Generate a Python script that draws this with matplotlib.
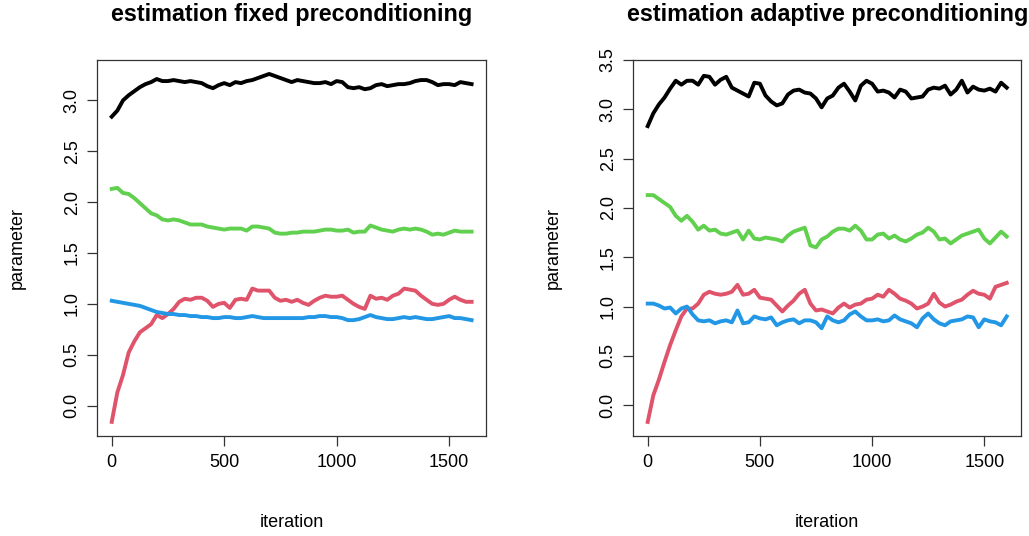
"""Parameter traces for fixed vs adaptive preconditioning."""
import numpy as np
import matplotlib
matplotlib.use("Agg")
import matplotlib.pyplot as plt

plt.rcParams['font.family'] = ['Liberation Sans', 'DejaVu Sans']

# iterations read every 25 steps
iteration = np.arange(0, 1601, 25)

# fixed preconditioning
fixed_black = [2.84, 2.90, 3.00, 3.05, 3.09, 3.13, 3.16, 3.18, 3.21, 3.19, 3.19, 3.20, 3.19,
               3.18, 3.19, 3.18, 3.17, 3.14, 3.12, 3.15, 3.17, 3.15, 3.18, 3.17, 3.19, 3.20,
               3.22, 3.24, 3.26, 3.24, 3.22, 3.20, 3.18, 3.20, 3.19, 3.18, 3.17, 3.17, 3.18,
               3.16, 3.19, 3.18, 3.13, 3.12, 3.13, 3.11, 3.12, 3.15, 3.16, 3.14, 3.15, 3.16,
               3.16, 3.17, 3.19, 3.20, 3.20, 3.18, 3.15, 3.16, 3.16, 3.15, 3.18, 3.17, 3.16]
fixed_red = [-0.16, 0.13, 0.30, 0.52, 0.63, 0.72, 0.76, 0.80, 0.89, 0.86, 0.90, 0.95, 1.02,
             1.05, 1.04, 1.06, 1.06, 1.03, 0.97, 1.00, 1.01, 0.96, 1.04, 1.05, 1.04, 1.15,
             1.13, 1.13, 1.13, 1.06, 1.03, 1.04, 1.02, 1.04, 1.01, 0.99, 1.03, 1.06, 1.08,
             1.07, 1.07, 1.08, 1.04, 1.00, 0.97, 0.95, 1.08, 1.05, 1.06, 1.04, 1.08, 1.10,
             1.15, 1.14, 1.13, 1.08, 1.04, 1.00, 0.99, 1.00, 1.04, 1.07, 1.04, 1.02, 1.02]
fixed_green = [2.13, 2.14, 2.09, 2.08, 2.04, 1.99, 1.94, 1.89, 1.87, 1.83, 1.82, 1.83, 1.82,
               1.80, 1.78, 1.78, 1.78, 1.76, 1.75, 1.74, 1.73, 1.74, 1.74, 1.74, 1.72, 1.76,
               1.76, 1.75, 1.74, 1.70, 1.69, 1.69, 1.70, 1.70, 1.71, 1.71, 1.71, 1.72, 1.73,
               1.73, 1.72, 1.72, 1.73, 1.70, 1.71, 1.71, 1.77, 1.75, 1.73, 1.72, 1.71, 1.73,
               1.74, 1.73, 1.74, 1.73, 1.71, 1.68, 1.69, 1.68, 1.70, 1.72, 1.71, 1.71, 1.71]
fixed_blue = [1.03, 1.02, 1.01, 1.00, 0.99, 0.98, 0.96, 0.94, 0.92, 0.91, 0.90, 0.90, 0.89,
              0.89, 0.88, 0.88, 0.87, 0.87, 0.86, 0.86, 0.87, 0.87, 0.86, 0.86, 0.87, 0.88,
              0.87, 0.86, 0.86, 0.86, 0.86, 0.86, 0.86, 0.86, 0.86, 0.87, 0.87, 0.88, 0.88,
              0.87, 0.87, 0.86, 0.84, 0.84, 0.85, 0.87, 0.89, 0.87, 0.86, 0.85, 0.85, 0.86,
              0.87, 0.86, 0.87, 0.86, 0.85, 0.85, 0.86, 0.87, 0.88, 0.86, 0.86, 0.85, 0.84]

# adaptive preconditioning
adapt_black = [2.83, 2.96, 3.05, 3.12, 3.21, 3.29, 3.25, 3.29, 3.29, 3.25, 3.34, 3.33, 3.25,
               3.30, 3.33, 3.22, 3.19, 3.16, 3.13, 3.27, 3.26, 3.14, 3.08, 3.04, 3.06, 3.15,
               3.19, 3.20, 3.17, 3.16, 3.11, 3.02, 3.11, 3.14, 3.22, 3.26, 3.18, 3.09, 3.24,
               3.29, 3.26, 3.18, 3.19, 3.17, 3.12, 3.20, 3.18, 3.11, 3.12, 3.13, 3.20, 3.22,
               3.21, 3.24, 3.15, 3.20, 3.29, 3.17, 3.23, 3.20, 3.19, 3.21, 3.18, 3.27, 3.22]
adapt_red = [-0.17, 0.10, 0.26, 0.44, 0.61, 0.76, 0.90, 0.98, 0.98, 1.03, 1.12, 1.15, 1.13,
             1.12, 1.13, 1.15, 1.22, 1.12, 1.13, 1.17, 1.09, 1.08, 1.07, 1.01, 0.95, 1.01,
             1.06, 1.13, 1.17, 1.03, 0.96, 0.97, 0.95, 0.93, 0.99, 1.03, 0.99, 1.02, 1.03,
             1.07, 1.08, 1.12, 1.10, 1.17, 1.13, 1.08, 1.06, 1.03, 0.98, 1.00, 1.03, 1.13,
             1.04, 1.00, 1.02, 1.05, 1.07, 1.12, 1.16, 1.13, 1.12, 1.08, 1.20, 1.22, 1.24]
adapt_green = [2.13, 2.13, 2.09, 2.05, 2.01, 1.92, 1.87, 1.92, 1.86, 1.78, 1.82, 1.77, 1.78,
               1.74, 1.73, 1.75, 1.77, 1.68, 1.77, 1.69, 1.68, 1.70, 1.69, 1.68, 1.66, 1.72,
               1.76, 1.78, 1.80, 1.62, 1.60, 1.68, 1.71, 1.76, 1.79, 1.79, 1.77, 1.82, 1.77,
               1.68, 1.68, 1.73, 1.74, 1.69, 1.72, 1.68, 1.66, 1.69, 1.73, 1.75, 1.80, 1.76,
               1.68, 1.69, 1.64, 1.68, 1.72, 1.74, 1.76, 1.78, 1.69, 1.64, 1.70, 1.76, 1.71]
adapt_blue = [1.03, 1.03, 1.01, 0.98, 0.99, 0.93, 0.98, 1.00, 0.92, 0.86, 0.85, 0.86, 0.83,
              0.85, 0.86, 0.84, 0.96, 0.83, 0.84, 0.90, 0.88, 0.87, 0.89, 0.81, 0.84, 0.86,
              0.87, 0.83, 0.86, 0.86, 0.84, 0.78, 0.90, 0.86, 0.84, 0.86, 0.92, 0.95, 0.90,
              0.86, 0.86, 0.87, 0.85, 0.86, 0.91, 0.87, 0.85, 0.83, 0.79, 0.88, 0.93, 0.87,
              0.83, 0.81, 0.85, 0.86, 0.87, 0.90, 0.89, 0.79, 0.87, 0.85, 0.84, 0.81, 0.90]

colors = ["black", "#DF536B", "#61D04F", "#2297E6"]
titles = ["estimation fixed preconditioning", "estimation adaptive preconditioning"]
yticks = [np.arange(0, 3.01, 0.5), np.arange(0, 3.51, 0.5)]

fig = plt.figure(figsize=(10.29, 5.36), dpi=100)
ax1 = fig.add_axes([0.0946, 0.187, 0.3777, 0.701])
ax2 = fig.add_axes([0.6155, 0.187, 0.3768, 0.701])

panels = [(ax1, [fixed_black, fixed_red, fixed_green, fixed_blue]),
          (ax2, [adapt_black, adapt_red, adapt_green, adapt_blue])]

for i, (ax, series) in enumerate(panels):
    for vals, col in zip(series, colors):
        ax.plot(iteration, vals, color=col, lw=2.8, solid_joinstyle='round')
    ax.margins(x=0.04, y=0.04)
    ax.set_xticks([0, 500, 1000, 1500])
    ax.set_yticks(yticks[i])
    ax.set_yticklabels(["%.1f" % v for v in yticks[i]], rotation=90, va='center')
    ax.tick_params(direction='out', length=7, width=0.9, labelsize=13, pad=6,
                   color='#333333')
    ax.tick_params(axis='y', pad=5)
    for s in ax.spines.values():
        s.set_linewidth(0.9)
        s.set_color('#333333')
    ax.set_title(titles[i], fontsize=16.8, fontweight='bold', pad=28)
    ax.set_xlabel("iteration", fontsize=13, labelpad=31)
    ax.set_ylabel("parameter", fontsize=13, labelpad=27)

fig.savefig("out.png", dpi=100)
